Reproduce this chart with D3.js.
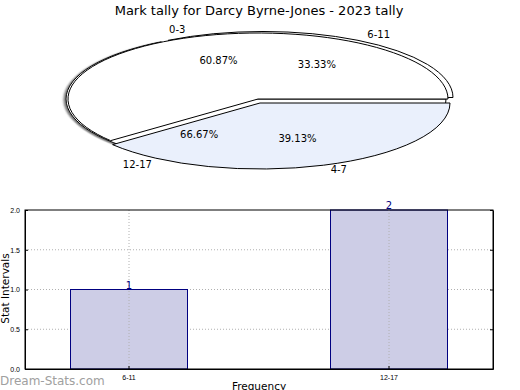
<!DOCTYPE html>
<html lang="en">
<head>
<meta charset="UTF-8">
<title>Mark tally</title>
<style>
html, body { margin: 0; padding: 0; background: #fff; }
svg { display: block; font-family: "DejaVu Sans", sans-serif; }
.slice { stroke: #000; stroke-width: 1; vector-effect: non-scaling-stroke; }
.grid line { stroke: #b0b0b0; stroke-dasharray: 1 2; }
.axis text { font-size: 7px; fill: #000; }
.axis path, .axis line { stroke: #000; }
</style>
</head>
<body>
<div id="graph"></div>
<script src="https://d3js.org/d3.v7.min.js"></script>
<script>
// pie data: two overlaid series
const pieCatsA = ["0-3", "4-7"];
const pieValsA = [14, 9];
const pieCatsB = ["6-11", "12-17"];
const pieValsB = [1, 2];

// bar data
const barCats = ["6-11", "12-17"];
const barVals = [1, 2];
const yTicks = [0, 0.5, 1.0, 1.5, 2.0];

const width = 520, height = 390;
const svg = d3.select("#graph").append("svg").attr("width", width).attr("height", height);

const defs = svg.append("defs");
defs.append("filter").attr("id", "shadow")
    .attr("x", "-10%").attr("y", "-10%").attr("width", "120%").attr("height", "130%")
  .append("feDropShadow")
    .attr("dx", -2).attr("dy", 2).attr("stdDeviation", 1)
    .attr("flood-color", "#555").attr("flood-opacity", 0.8);

svg.append("text")
    .attr("x", 259).attr("y", 15)
    .attr("text-anchor", "middle")
    .style("font-size", "13px")
    .text("Mark tally for Darcy Byrne-Jones - 2023 tally");

// ---- pie ----
const cx = 258, cy = 99, rx = 190, ry = 66;
const k = ry / rx;

const pie = d3.pie().sort(null)
    .startAngle(Math.PI / 2)
    .endAngle(Math.PI / 2 - 2 * Math.PI);
const arc = d3.arc().innerRadius(0).outerRadius(rx);

function point(angle, fx, fy) {
    // d3 angle: clockwise from 12 o'clock
    return [cx + rx * fx * Math.sin(angle), cy - ry * fy * Math.cos(angle)];
}

// shift: [dx, dy] in pixels for each slice, shadow: which slices get a drop shadow
function drawPie(cats, vals, fills, shift, shadow, layer) {
    const arcs = pie(vals);
    const total = d3.sum(vals);
    layer.selectAll("path").data(arcs).enter().append("path")
        .attr("class", "slice")
        .attr("fill", (d, i) => fills[i])
        .attr("d", arc)
        .attr("filter", (d, i) => shadow[i] ? "url(#shadow)" : null)
        .attr("transform", (d, i) =>
            `translate(${cx + shift[i][0]},${cy + shift[i][1]}) scale(1,${k})`);
    return arcs.map((d, i) => ({
        mid: (d.startAngle + d.endAngle) / 2,
        name: cats[i],
        pct: (vals[i] / total * 100).toFixed(2) + "%"
    }));
}

const pieB = svg.append("g");
const labB = drawPie(pieCatsB, pieValsB, ["#fff", "#fff"], [[5, -1.5], [-2, 0]], [false, true], pieB);
const pieA = svg.append("g");
const labA = drawPie(pieCatsA, pieValsA, ["#fff", "#eaf0fc"], [[0, 0], [2, 4]], [false, false], pieA);

const labels = labA.concat(labB);
const labelLayer = svg.append("g").style("font-size", "10px");
labels.forEach(l => {
    const po = point(l.mid, 1.27, 1.13);
    const pi = point(l.mid, 0.62, 0.62);
    labelLayer.append("text").attr("x", po[0]).attr("y", po[1] + 4)
        .attr("text-anchor", "middle").text(l.name);
    labelLayer.append("text").attr("x", pi[0]).attr("y", pi[1] + 4)
        .attr("text-anchor", "middle").text(l.pct);
});

// ---- bar chart ----
const margin = { top: 210, left: 25, right: 27, bottom: 21 };
const chartWidth = width - margin.left - margin.right;
const chartHeight = height - margin.top - margin.bottom;

const chart = svg.append("g").attr("transform", `translate(${margin.left},${margin.top})`);

const xScale = d3.scaleBand().domain(barCats).range([0, chartWidth])
    .paddingInner(0.55).paddingOuter(0.175);
const yScale = d3.scaleLinear().domain([0, 2]).range([chartHeight, 0]);

// grid
chart.append("g").attr("class", "grid")
    .selectAll("line.h").data(yTicks.slice(1, -1)).enter().append("line")
    .attr("x1", 0).attr("x2", chartWidth)
    .attr("y1", d => yScale(d)).attr("y2", d => yScale(d));

chart.selectAll(".bar").data(barVals).enter().append("rect")
    .attr("class", "bar")
    .attr("x", (d, i) => xScale(barCats[i]))
    .attr("y", d => yScale(d))
    .attr("width", xScale.bandwidth())
    .attr("height", d => chartHeight - yScale(d))
    .attr("fill", "#cdcde6")
    .attr("stroke", "#000080")
    .attr("stroke-width", 1);

chart.append("g").attr("class", "grid")
    .selectAll("line.v").data(barCats).enter().append("line")
    .attr("x1", d => xScale(d) + xScale.bandwidth() / 2)
    .attr("x2", d => xScale(d) + xScale.bandwidth() / 2)
    .attr("y1", 0).attr("y2", chartHeight);

chart.selectAll(".val").data(barVals).enter().append("text")
    .attr("x", (d, i) => xScale(barCats[i]) + xScale.bandwidth() / 2)
    .attr("y", d => yScale(d) - 1)
    .attr("text-anchor", "middle")
    .attr("fill", "#000080")
    .style("font-size", "10px")
    .text(d => d);

const yAxis = d3.axisLeft(yScale).tickValues(yTicks).tickFormat(d3.format(".1f"))
    .tickSizeInner(-3).tickSizeOuter(0).tickPadding(5);
chart.append("g").attr("class", "axis").call(yAxis);

const yAxisR = d3.axisRight(yScale).tickValues(yTicks).tickFormat("")
    .tickSizeInner(-3).tickSizeOuter(0);
chart.append("g").attr("class", "axis").attr("transform", `translate(${chartWidth},0)`).call(yAxisR);

const xAxis = d3.axisBottom(xScale).tickSizeInner(-3).tickSizeOuter(0).tickPadding(6);
chart.append("g").attr("class", "axis").attr("transform", `translate(0,${chartHeight})`).call(xAxis);

chart.append("rect").attr("width", chartWidth).attr("height", chartHeight)
    .attr("fill", "none").attr("stroke", "#000");

svg.append("text")
    .attr("transform", `translate(9,${margin.top + chartHeight / 2 - 1}) rotate(-90)`)
    .attr("text-anchor", "middle")
    .style("font-size", "10.5px")
    .text("Stat Intervals");

svg.append("text")
    .attr("x", margin.left + chartWidth / 2).attr("y", 390)
    .attr("text-anchor", "middle")
    .style("font-size", "10.5px")
    .text("Frequency");

svg.append("text")
    .attr("x", 0).attr("y", 385)
    .attr("fill", "#a0a0a0")
    .style("font-size", "12px")
    .text("Dream-Stats.com");
</script>
</body>
</html>
